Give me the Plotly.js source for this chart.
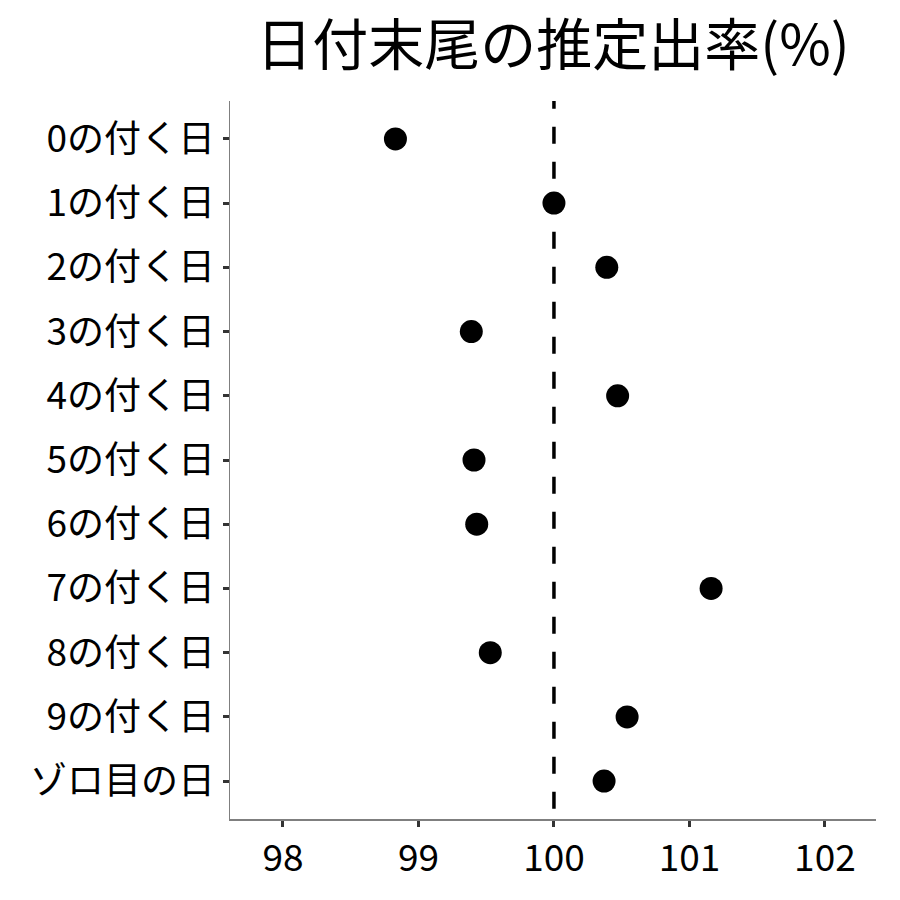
<!DOCTYPE html>
<html>
<head>
<meta charset="utf-8">
<script src="https://cdn.plot.ly/plotly-3.0.1.min.js"></script>
<style>html,body{margin:0;padding:0;background:#fff;}#chart{width:900px;height:900px;}</style>
</head>
<body>
<div id="chart"></div>
<script>
const categories = ["0の付く日","1の付く日","2の付く日","3の付く日","4の付く日","5の付く日","6の付く日","7の付く日","8の付く日","9の付く日","ゾロ目の日"];
const rates = [98.83, 100.0, 100.39, 99.39, 100.47, 99.41, 99.43, 101.16, 99.53, 100.54, 100.37];
const xTicks = [98, 99, 100, 101, 102];
const refValue = 100;

const font = "Noto Sans CJK JP, Noto Sans, sans-serif";

const trace = {
  type: "scatter",
  mode: "markers",
  x: rates,
  y: categories,
  marker: {color: "#000", size: 23, line: {width: 0}},
  cliponaxis: false,
  hoverinfo: "x+y"
};

const layout = {
  width: 900, height: 900,
  paper_bgcolor: "#fff", plot_bgcolor: "#fff",
  margin: {l: 230, r: 24, t: 101, b: 81},
  showlegend: false,
  font: {family: font, color: "#000"},
  title: {
    text: "日付末尾の推定出率(%)",
    font: {family: font, size: 56, color: "#000"},
    x: 0.5, xanchor: "center", xref: "paper",
    y: 0.95, yanchor: "middle"
  },
  xaxis: {
    range: [97.609, 102.377],
    tickvals: xTicks,
    ticktext: xTicks.map(String),
    showgrid: false, zeroline: false,
    showline: true, linecolor: "#7f7f7f", linewidth: 1.5,
    ticks: "outside", ticklen: 6, tickwidth: 3, tickcolor: "#333",
    tickfont: {family: font, size: 37, color: "#000"}
  },
  yaxis: {
    type: "category",
    categoryorder: "array", categoryarray: categories,
    range: [10.59, -0.59],
    showgrid: false, zeroline: false,
    showline: true, linecolor: "#7f7f7f", linewidth: 1.5,
    ticks: "outside", ticklen: 6, tickwidth: 3, tickcolor: "#333",
    tickfont: {family: font, size: 37, color: "#000"}
  },
  shapes: [{
    type: "line", xref: "x", yref: "y",
    x0: refValue, x1: refValue, y0: -0.735, y1: 10.59,
    line: {color: "#000", width: 3.5, dash: "17px,18px"},
    layer: "below"
  }]
};

Plotly.newPlot("chart", [trace], layout, {displayModeBar: false, staticPlot: true});
</script>
</body>
</html>
